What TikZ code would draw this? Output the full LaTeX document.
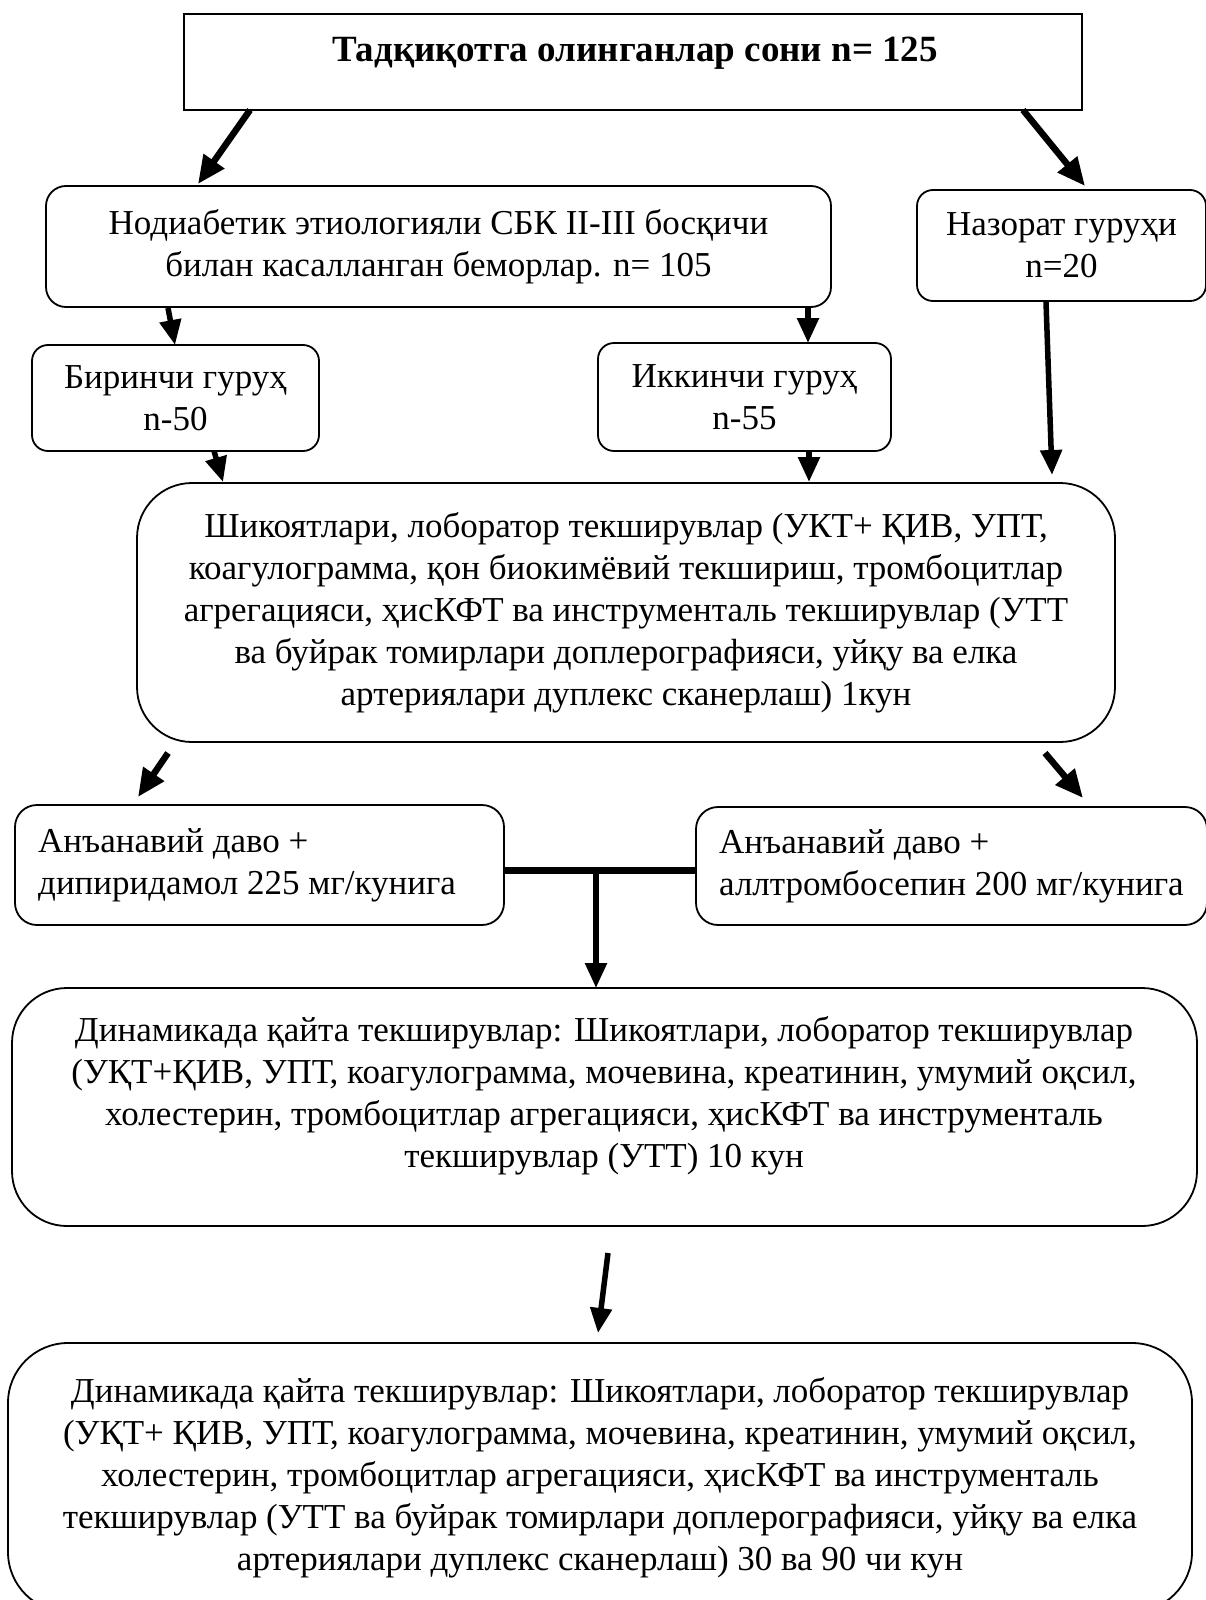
\documentclass[tikz,border=0pt]{standalone}
\usepackage{fontspec}
\setmainfont{Liberation Serif}
\usetikzlibrary{arrows.meta}
\newcommand\myfs{\fontsize{35}{42}\selectfont}
\begin{document}
\begin{tikzpicture}[x=1pt,y=-1pt,
  box/.style={draw, line width=1.8pt, rounded corners=#1, inner sep=0pt, align=center, font=\myfs},
  box/.default=16pt,
  txt/.style={inner sep=0pt, align=center, font=\myfs},
  arr/.style={line width=5.5pt, -{Triangle[length=25pt,width=21pt]}},
  bigarr/.style={line width=6.5pt, -{Triangle[length=28pt,width=24pt]}},
  bar/.style={line width=7pt}
]
\useasboundingbox (0,0) rectangle (1206,1600);
\clip (0,0) rectangle (1206,1600);

% boxes
\node[box=0pt, minimum width=898pt, minimum height=96pt] (top) at (633,62) {};
\node[txt, font=\fontsize{37}{42}\selectfont\bfseries] (title) at (635,53) {Тадқиқотга олинганлар сони n= 125};

\node[box=20pt, minimum width=785pt, minimum height=121pt] (nod) at (438.5,246.5)
  {Нодиабетик этиологияли СБК II-III босқичи\\билан касалланган беморлар. n= 105};
\node[box=16pt, minimum width=289pt, minimum height=111pt] (naz) at (1061.5,245.5)
  {Назорат гуруҳи\\n=20};
\node[box=16pt, minimum width=287pt, minimum height=106pt] (bir) at (175.5,398)
  {Биринчи гуруҳ\\n-50};
\node[box=16pt, minimum width=293pt, minimum height=108pt] (ikk) at (744.5,397)
  {Иккинчи гуруҳ\\n-55};
\node[box=55pt, minimum width=978pt, minimum height=259pt] (shik) at (626,612.5)
  {Шикоятлари, лоборатор текширувлар (УКТ+ ҚИВ, УПТ,\\
   коагулограмма, қон биокимёвий текшириш, тромбоцитлар\\
   агрегацияси, ҳисКФТ ва инструменталь текширувлар (УТТ\\
   ва буйрак томирлари доплерографияси, уйқу ва елка\\
   артериялари дуплекс сканерлаш) 1кун};
\node[box=22pt, minimum width=489pt, minimum height=120pt] (tr1) at (259.5,865) {};
\node[txt, anchor=west, align=left] (tr1t) at (38,865)
  {Анъанавий даво +\\дипиридамол 225 мг/кунига};
\node[box=22pt, minimum width=511pt, minimum height=118pt] (tr2) at (951.5,866) {};
\node[txt, anchor=west, align=left] (tr2t) at (719,866)
  {Анъанавий даво +\\аллтромбосепин 200 мг/кунига};
\node[box=55pt, minimum width=1185pt, minimum height=238pt] (d1) at (604.5,1107) {};
\node[txt] (d1t) at (604,1096)
  {Динамикада қайта текширувлар: Шикоятлари, лоборатор текширувлар\\
   (УҚТ+ҚИВ, УПТ, коагулограмма, мочевина, креатинин, умумий оқсил,\\
   холестерин, тромбоцитлар агрегацияси, ҳисКФТ ва инструменталь\\
   текширувлар (УТТ) 10 кун};
\node[box=60pt, minimum width=1184pt, minimum height=269pt] (d2) at (600,1477.5)
  {Динамикада қайта текширувлар: Шикоятлари, лоборатор текширувлар\\
   (УҚТ+ ҚИВ, УПТ, коагулограмма, мочевина, креатинин, умумий оқсил,\\
   холестерин, тромбоцитлар агрегацияси, ҳисКФТ ва инструменталь\\
   текширувлар (УТТ ва буйрак томирлари доплерографияси, уйқу ва елка\\
   артериялари дуплекс сканерлаш) 30 ва 90 чи кун};

% connector ends
\coordinate (a1s) at (250,110);  \coordinate (a1e) at (198,184);
\coordinate (a2s) at (1023,110); \coordinate (a2e) at (1085,186);
\coordinate (a3s) at (168,308);  \coordinate (a3e) at (175,345);
\coordinate (a4s) at (808,308);  \coordinate (a4e) at (808,343);
\coordinate (a5s) at (1046,302); \coordinate (a5e) at (1052,475);
\coordinate (a6s) at (214,451);  \coordinate (a6e) at (223,482);
\coordinate (a7s) at (809,451);  \coordinate (a7e) at (809,482);
\coordinate (a8s) at (168,753);  \coordinate (a8e) at (138,797);
\coordinate (a9s) at (1045,753); \coordinate (a9e) at (1083,798);
\coordinate (j) at (596,870);
\coordinate (a10e) at (596,988);
\coordinate (a11s) at (608,1253); \coordinate (a11e) at (598,1333);

\draw[bigarr] (a1s) -- (a1e);
\draw[bigarr] (a2s) -- (a2e);
\draw[arr] (a3s) -- (a3e);
\draw[arr] (a4s) -- (a4e);
\draw[arr] (a5s) -- (a5e);
\draw[arr] (a6s) -- (a6e);
\draw[arr] (a7s) -- (a7e);
\draw[bigarr] (a8s) -- (a8e);
\draw[bigarr] (a9s) -- (a9e);
\draw[bar] (j -| tr1.east) -- (j -| tr2.west);
\draw[arr] (j) -- (a10e);
\draw[arr] (a11s) -- (a11e);
\end{tikzpicture}
\end{document}
